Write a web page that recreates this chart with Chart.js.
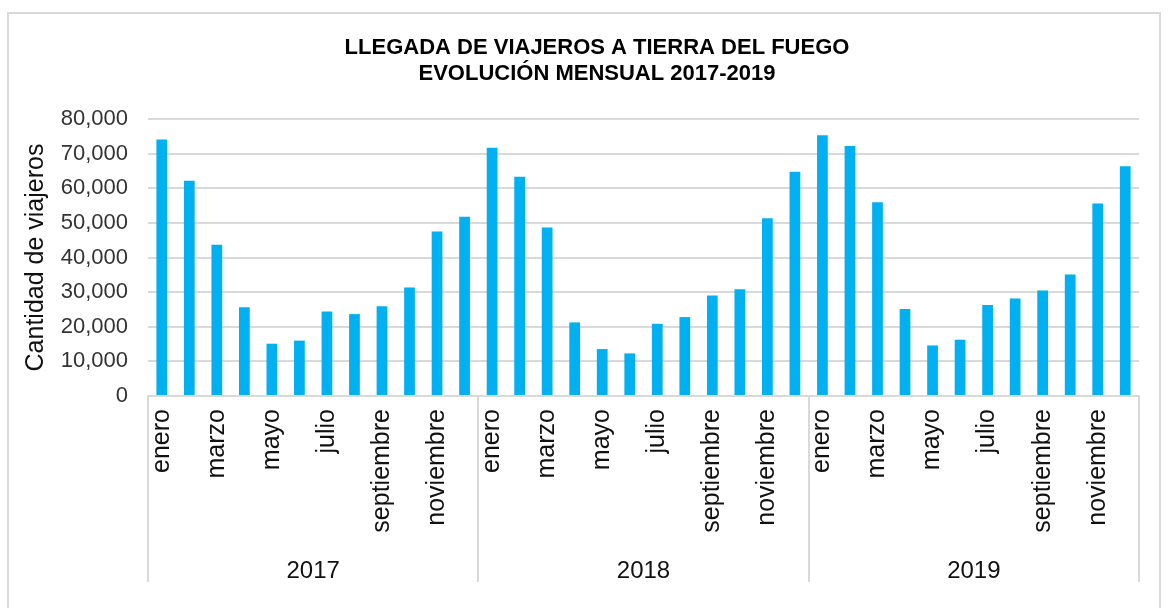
<!DOCTYPE html>
<html>
<head>
<meta charset="utf-8">
<script src="https://cdn.jsdelivr.net/npm/chart.js@4.4.0/dist/chart.umd.min.js"></script>
<style>
  html, body { margin: 0; padding: 0; background: #fff; }
  #wrap { width: 1172px; height: 608px; }
</style>
</head>
<body>
<div id="wrap"><canvas id="barChart"></canvas></div>
<script>
const meses = ["enero", "febrero", "marzo", "abril", "mayo", "junio",
  "julio", "agosto", "septiembre", "octubre", "noviembre", "diciembre"];
const years = ["2017", "2018", "2019"];
const categories = [].concat(meses, meses, meses);

const viajeros2017 = [74100, 62200, 43650, 25600, 15100, 16000, 24400, 23650, 25900, 31350, 47500, 51800];
const viajeros2018 = [71700, 63350, 48650, 21250, 13550, 12300, 20850, 22800, 29050, 30850, 51350, 64800];
const viajeros2019 = [75300, 72200, 55950, 25100, 14600, 16250, 26250, 28150, 30500, 35100, 55600, 66350];
const yTicks = [0, 10000, 20000, 30000, 40000, 50000, 60000, 70000, 80000];

const titleLines = ["LLEGADA DE VIAJEROS A TIERRA DEL FUEGO", "EVOLUCIÓN MENSUAL 2017-2019"];

const FONT = "'Liberation Sans', Arial, sans-serif";
const GRID = "#d9d9d9";

// marco, titulo y separadores de años
const extras = {
  id: 'extras',
  beforeDraw(chart) {
    const c = chart.ctx;
    c.save();
    c.fillStyle = '#fff';
    c.fillRect(0, 0, chart.width, chart.height);
    c.strokeStyle = GRID;
    c.lineWidth = 2;
    c.strokeRect(8, 13, 1152, 640);
    c.restore();
  },
  afterDraw(chart) {
    const c = chart.ctx;
    const x = chart.scales.x;
    const x2 = chart.scales.x2;
    c.save();
    c.fillStyle = '#000';
    c.font = "bold 22px " + FONT;
    c.textAlign = 'center';
    c.textBaseline = 'middle';
    titleLines.forEach((t, i) => c.fillText(t, 597, 48 + i * 26));

    c.strokeStyle = GRID;
    c.lineWidth = 2;
    const bounds = [x.left];
    for (let i = 12; i < categories.length; i += 12) {
      bounds.push((x.getPixelForValue(i - 1) + x.getPixelForValue(i)) / 2);
    }
    bounds.push(x.right);
    bounds.forEach(b => {
      c.beginPath();
      c.moveTo(Math.round(b), x.top);
      c.lineTo(Math.round(b), x2.bottom - 6);
      c.stroke();
    });
    c.restore();
  }
};

new Chart(document.getElementById('barChart'), {
  type: 'bar',
  data: {
    labels: categories,
    datasets: [{
      label: "Cantidad de viajeros",
      data: [].concat(viajeros2017, viajeros2018, viajeros2019),
      backgroundColor: "#00b0f0",
      borderWidth: 0,
      barPercentage: 0.39,
      categoryPercentage: 1
    }]
  },
  options: {
    responsive: true,
    maintainAspectRatio: false,
    animation: false,
    layout: { padding: { top: 119, left: 20, right: 33, bottom: 20 } },
    plugins: {
      legend: { display: false },
      title: { display: false },
      tooltip: { enabled: false }
    },
    scales: {
      x: {
        position: 'bottom',
        grid: { display: false, drawTicks: false },
        border: { display: true, color: GRID, width: 2 },
        ticks: {
          autoSkip: false,
          maxRotation: 90,
          minRotation: 90,
          padding: 13,
          color: '#111',
          font: { family: FONT, size: 25 },
          callback: (v, i) => (i % 2 === 0 ? categories[i] : '')
        },
        afterFit: s => { s.height = 142; }
      },
      x2: {
        type: 'category',
        position: 'bottom',
        labels: years,
        offset: true,
        grid: { display: false, drawTicks: false },
        border: { display: false },
        ticks: {
          padding: 19,
          color: '#111',
          font: { family: FONT, size: 24 },
          maxRotation: 0
        },
        afterFit: s => { s.height = 50; }
      },
      y: {
        min: 0,
        max: 80000,
        afterBuildTicks: s => { s.ticks = yTicks.map(v => ({ value: v })); },
        grid: { color: GRID, lineWidth: 2, drawTicks: false },
        border: { display: false },
        ticks: {
          padding: 20,
          color: '#333',
          font: { family: FONT, size: 22 },
          callback: v => v.toLocaleString('en-US')
        },
        title: {
          display: true,
          text: "Cantidad de viajeros",
          color: '#111',
          font: { family: FONT, size: 25 },
          padding: { top: 1, bottom: 0 }
        },
        afterFit: s => { s.width = 128; }
      }
    }
  },
  plugins: [extras]
});
</script>
</body>
</html>
